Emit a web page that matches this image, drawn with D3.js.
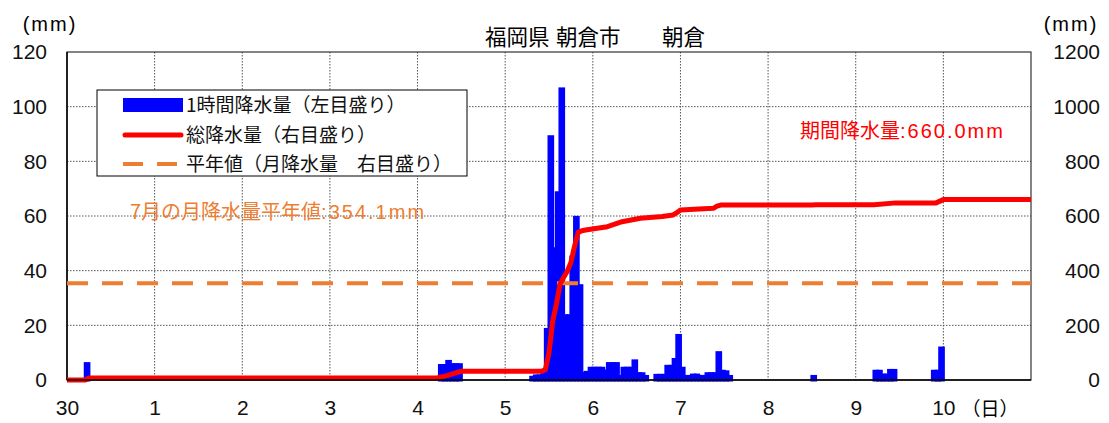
<!DOCTYPE html>
<html>
<head>
<meta charset="utf-8">
<script src="https://cdn.jsdelivr.net/npm/d3@7"></script>
<style>
  body { margin: 0; background: #fff; }
  svg { display: block; }
</style>
</head>
<body>
<div id="chart"></div>
<script>
// hourly rain (left axis), hour index counted from 30th 00:00
const rainHours = [5, 102, 103, 104, 105, 106, 107,
  127, 128, 129, 130, 131, 132, 133, 134, 135, 136, 137, 138, 139, 140, 141,
  142, 143, 144, 145, 146, 147, 148, 149, 150, 151, 152, 153, 154, 155, 156, 157, 158,
  161, 162, 163, 164, 165, 166, 167, 168, 169, 170, 171, 172, 173, 174, 175, 176, 177, 178, 179, 180, 181,
  204, 221, 222, 223, 224, 225, 226, 237, 238, 239];
const rainValues = [6, 5.3, 5.3, 6.8, 5.6, 5.6, 5.6,
  1, 1.5, 1.5, 2, 18.5, 89, 48, 68.5, 106.5, 23.5, 23.5, 45, 59.5, 34.5, 2.5,
  2.8, 4.3, 4.3, 4.3, 4.3, 3.3, 6, 6, 6, 1.3, 4.3, 4.3, 4.3, 7, 2.3, 2.3, 1.3,
  1.7, 1.7, 1.7, 5, 5, 7.5, 16.3, 4.3, 1.3, 1.3, 1.8, 1.8, 1.3, 1.3, 2.3, 2.3, 2.3, 10, 3.2, 3, 1.3,
  1.3, 3.2, 3.2, 1.8, 1.8, 3.5, 3.5, 3.2, 3.2, 11.7];

// total rain (right axis)
const cumHours = [0, 5, 6, 101, 104, 106, 108, 130, 131, 132, 133, 134, 135, 136, 137, 138, 139, 140, 141, 142,
  148, 152, 157, 163, 166, 167, 168, 177, 178, 179, 204, 205, 221, 227, 238, 240, 264];
const cumValues = [0, 0, 7, 7, 16, 24, 32, 32, 38, 100, 215, 275, 350, 375, 398, 430, 490, 540, 546, 549,
  561, 579, 592, 598, 604, 612, 622, 628, 636, 640, 640, 641, 641, 648, 648, 660, 660];

const normalMonthly = 354.1;
const periodTotal = 660.0;

const dayLabels = ["30", "1", "2", "3", "4", "5", "6", "7", "8", "9", "10"];
const leftTicks = [0, 20, 40, 60, 80, 100, 120];
const rightTicks = [0, 200, 400, 600, 800, 1000, 1200];
const titleParts = ["福岡県", "朝倉市", "朝倉"];

const W = 1109, H = 423;
const plot = {left: 67, right: 1031, top: 52, bottom: 380};
const numFont = "'Liberation Sans', Arial, 'Noto Sans CJK JP', sans-serif";
const jpFont = "'Noto Sans CJK JP', 'Liberation Sans', sans-serif";

const svg = d3.select("#chart").append("svg")
    .attr("width", W)
    .attr("height", H);

const x = d3.scaleLinear().domain([0, 264]).range([plot.left, plot.right]);
const yL = d3.scaleLinear().domain([0, 120]).range([plot.bottom, plot.top]);
const yR = d3.scaleLinear().domain([0, 1200]).range([plot.bottom, plot.top]);

// grid
const grid = svg.append("g");
grid.selectAll(".hgrid")
    .data(leftTicks.filter(d => d > 0 && d < 120))
  .enter().append("line")
    .attr("x1", plot.left).attr("x2", plot.right)
    .attr("y1", d => yL(d)).attr("y2", d => yL(d))
    .style("stroke", "#555")
    .style("stroke-width", 1)
    .style("stroke-dasharray", "1.5,1.5");
grid.selectAll(".vgrid")
    .data(d3.range(1, 11))
  .enter().append("line")
    .attr("x1", d => x(d * 24)).attr("x2", d => x(d * 24))
    .attr("y1", plot.top).attr("y2", plot.bottom)
    .style("stroke", "#555")
    .style("stroke-width", 1)
    .style("stroke-dasharray", "1.5,1.5");

// hourly bars
const bars = rainHours.map((h, i) => ({h: h, v: rainValues[i]}));
svg.append("g").selectAll("rect")
    .data(bars)
  .enter().append("rect")
    .attr("x", d => x(d.h))
    .attr("width", d => x(d.h + 1) - x(d.h))
    .attr("y", d => yL(d.v))
    .attr("height", d => yL(0) - yL(d.v))
    .style("fill", "#0000ff")
    .style("stroke", "#0000ff")
    .style("stroke-width", 3);

// frame
svg.append("rect")
    .attr("x", plot.left).attr("y", plot.top)
    .attr("width", plot.right - plot.left)
    .attr("height", plot.bottom - plot.top)
    .style("fill", "none")
    .style("stroke", "#333")
    .style("stroke-width", 1.2);
svg.append("line")
    .attr("x1", plot.left).attr("x2", plot.left)
    .attr("y1", plot.top).attr("y2", plot.bottom)
    .style("stroke", "#000").style("stroke-width", 1.5);

// normal line
svg.append("line")
    .attr("x1", plot.left).attr("x2", plot.right)
    .attr("y1", yR(normalMonthly)).attr("y2", yR(normalMonthly))
    .style("stroke", "#ED7D31")
    .style("stroke-width", 4)
    .style("stroke-dasharray", "21,14");

// total line
const line = d3.line()
    .x(d => x(d[0]))
    .y(d => yR(d[1]));
svg.append("path")
    .datum(cumHours.map((h, i) => [h, cumValues[i]]))
    .attr("d", line)
    .style("fill", "none")
    .style("stroke", "#ff0000")
    .style("stroke-width", 5)
    .style("stroke-linejoin", "round");

// bottom axis line
svg.append("line")
    .attr("x1", plot.left).attr("x2", plot.right)
    .attr("y1", plot.bottom).attr("y2", plot.bottom)
    .style("stroke", "#000").style("stroke-width", 1.5);

// axes labels
const leftAxis = d3.axisLeft(yL).tickValues(leftTicks).tickSize(0).tickPadding(20);
svg.append("g")
    .attr("transform", "translate(" + plot.left + ",0)")
    .call(leftAxis)
    .call(g => g.select(".domain").remove())
    .selectAll("text")
    .style("font-family", numFont)
    .style("font-size", "21px")
    .style("fill", "#111");

const rightAxis = d3.axisRight(yR).tickValues(rightTicks)
    .tickFormat(d3.format("d")).tickSize(0).tickPadding(69);
svg.append("g")
    .attr("transform", "translate(" + plot.right + ",0)")
    .call(rightAxis)
    .call(g => g.select(".domain").remove())
    .selectAll("text")
    .attr("text-anchor", "end")
    .style("font-family", numFont)
    .style("font-size", "21px")
    .style("fill", "#111");

const bottomAxis = d3.axisBottom(x)
    .tickValues(d3.range(0, 11).map(d => d * 24))
    .tickFormat((d, i) => dayLabels[i])
    .tickSize(0).tickPadding(20);
svg.append("g")
    .attr("transform", "translate(0," + plot.bottom + ")")
    .call(bottomAxis)
    .call(g => g.select(".domain").remove())
    .selectAll("text")
    .style("font-family", numFont)
    .style("font-size", "21px")
    .style("fill", "#111");

svg.append("text")
    .attr("x", 990).attr("y", 416)
    .attr("text-anchor", "middle")
    .style("font-family", jpFont)
    .style("font-size", "19px")
    .text("（日）");

svg.selectAll(".unit")
    .data([50, 1071])
  .enter().append("text")
    .attr("x", d => d).attr("y", 31)
    .attr("text-anchor", "middle")
    .style("font-family", numFont)
    .style("font-size", "20px")
    .style("letter-spacing", "2px")
    .text("(mm)");

// title
svg.append("text")
    .attr("y", 45)
    .style("font-family", jpFont)
    .style("font-size", "21.5px")
    .selectAll("tspan")
    .data(titleParts)
  .enter().append("tspan")
    .attr("x", (d, i) => [485, 556, 662][i])
    .text(d => d);

// annotations: kanji part + numeric part
function note(xPos, yPos, head, value, color) {
    const t = svg.append("text")
        .attr("x", xPos).attr("y", yPos)
        .style("fill", color);
    t.append("tspan")
        .style("font-family", jpFont)
        .style("font-size", "20px")
        .text(head);
    t.append("tspan")
        .style("font-family", numFont)
        .style("font-size", "20px")
        .style("letter-spacing", "2px")
        .text(value);
}
note(800, 138, "期間降水量", ":" + periodTotal.toFixed(1) + "mm", "#ff0000");
note(130, 219, "7月の月降水量平年値", ":" + normalMonthly + "mm", "#ED7D31");

// legend
const lg = svg.append("g");
lg.append("rect")
    .attr("x", 97).attr("y", 90)
    .attr("width", 370).attr("height", 86)
    .style("fill", "#fff")
    .style("stroke", "#000")
    .style("stroke-width", 1);
lg.append("rect")
    .attr("x", 123).attr("y", 98)
    .attr("width", 60).attr("height", 14)
    .style("fill", "#0000ff");
lg.append("line")
    .attr("x1", 125).attr("x2", 181)
    .attr("y1", 135).attr("y2", 135)
    .style("stroke", "#ff0000")
    .style("stroke-width", 5)
    .style("stroke-linecap", "round");
lg.append("line")
    .attr("x1", 123).attr("x2", 183)
    .attr("y1", 164).attr("y2", 164)
    .style("stroke", "#ED7D31")
    .style("stroke-width", 4)
    .style("stroke-dasharray", "20,14");
const legendTexts = ["1時間降水量（左目盛り）", "総降水量（右目盛り）", "平年値（月降水量\u3000右目盛り）"];
lg.selectAll(".lt")
    .data(legendTexts)
  .enter().append("text")
    .attr("x", 186)
    .attr("y", (d, i) => 112 + i * 29.5)
    .style("font-family", jpFont)
    .style("font-size", "19px")
    .style("fill", "#111")
    .text(d => d);
</script>
</body>
</html>
